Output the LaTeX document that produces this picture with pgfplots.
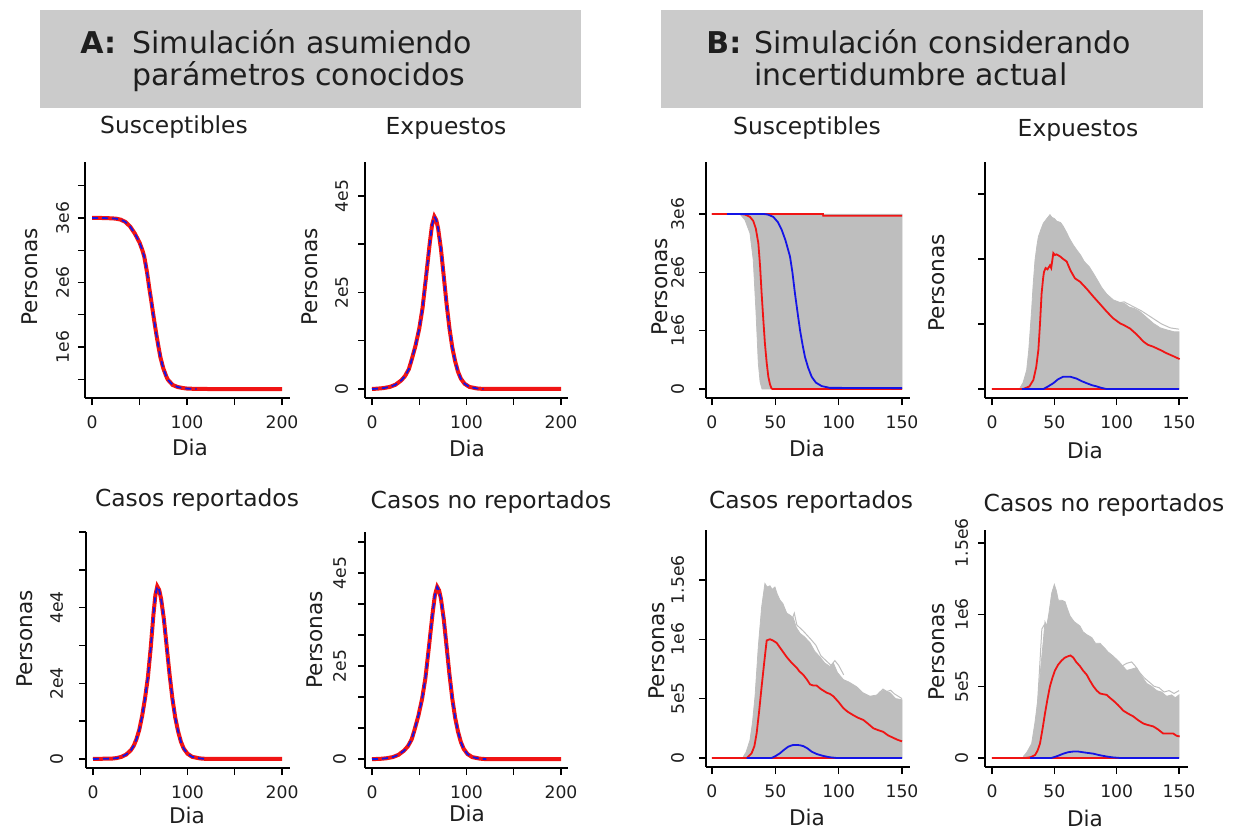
\documentclass[border=0pt]{standalone}
\usepackage{fontspec}
\setmainfont{DejaVu Sans}
\usepackage{pgfplots}
\pgfplotsset{compat=1.18}
\definecolor{rgray}{HTML}{BEBEBE}
\definecolor{hdr}{HTML}{CBCBCB}
\definecolor{rred}{HTML}{F01414}
\definecolor{rblue}{HTML}{1414E6}
\definecolor{txt}{HTML}{1E1E1E}
\pgfplotsset{
 rbase/.style={
  scale only axis, anchor=north west,
  axis x line*=bottom, axis y line*=left,
  axis line style={line width=0.7pt, black},
  tick align=outside, major tick length=3.5pt,
  every tick/.style={black, line width=0.7pt},
  tick label style={font=\fontsize{8.6}{10}\selectfont, text=txt},
  yticklabel style={rotate=90, anchor=south, inner sep=0pt},
  xticklabel style={anchor=north, inner sep=0pt},
  xticklabel shift=5.2pt,
  scaled x ticks=false, scaled y ticks=false,
 },
 rA/.style={rbase, xmin=-7.4, xmax=208.4, xtick={0,50,100,150,200}, xticklabels={0,,100,,200}},
 rB/.style={rbase, xmin=-4.7, xmax=156.3, xtick={0,50,100,150}, xticklabels={0,50,100,150}},
 redA/.style={rred, line width=2pt},
 blueA/.style={rblue, line width=0.9pt, dash pattern=on 3pt off 2pt},
 redB/.style={rred, line width=0.9pt},
 blueB/.style={rblue, line width=0.9pt},
 grayB/.style={draw=rgray, fill=rgray, line width=0.4pt},
 grayL/.style={rgray, line width=0.5pt},
}
\begin{document}
\begin{tikzpicture}
\begin{scope}[x=0.5pt,y=-0.5pt]
\useasboundingbox (0,0) rectangle (1238,829);
\fill[hdr] (40,10) rectangle (581,108);
\fill[hdr] (661,10) rectangle (1203,108);
\begin{scope}[every node/.style={inner sep=0pt, text=txt, font=\fontsize{15}{18}\selectfont}]
\node[anchor=base west] at (80,54) {\textbf{A:}};
\node[anchor=base west] at (132,54) {Simulación asumiendo};
\node[anchor=base west] at (132,86) {parámetros conocidos};
\node[anchor=base west] at (706,54) {\textbf{B:}};
\node[anchor=base west] at (754,54) {Simulación considerando};
\node[anchor=base west] at (754,86) {incertidumbre actual};
\end{scope}
\begin{scope}[every node/.style={inner sep=0pt, text=txt, font=\fontsize{11.7}{14}\selectfont}]
\node at (174,127) {Susceptibles};
\node at (446,128) {Expuestos};
\node at (197,500) {Casos reportados};
\node at (491,502) {Casos no reportados};
\node at (807,128) {Susceptibles};
\node at (1078,130) {Expuestos};
\node at (811,502) {Casos reportados};
\node at (1104,505) {Casos no reportados};
\end{scope}
\begin{scope}[every node/.style={inner sep=0pt, text=txt, font=\fontsize{10.8}{13}\selectfont}]
\node at (190,447) {Dia};
\node at (467,448) {Dia};
\node at (187,815) {Dia};
\node at (467,813) {Dia};
\node at (807,448) {Dia};
\node at (1085,450) {Dia};
\node at (807,817) {Dia};
\node at (1085,818) {Dia};
\node[rotate=90] at (30,277) {Personas};
\node[rotate=90] at (310,277) {Personas};
\node[rotate=90] at (25,639) {Personas};
\node[rotate=90] at (315,640) {Personas};
\node[rotate=90] at (660,287) {Personas};
\node[rotate=90] at (937,283) {Personas};
\node[rotate=90] at (657,651) {Personas};
\node[rotate=90] at (937,652) {Personas};
\end{scope}
\end{scope}

% ---------------- A1 Susceptibles
\begin{axis}[rA, at={(42.5pt,-81pt)}, width=102.5pt, height=118pt,
  ymin=0.209e6, ymax=3.868e6,
  ytick={0.5e6,1e6,1.5e6,2e6,2.5e6,3e6,3.5e6}, yticklabels={,1e6,,2e6,,3e6,},
  yticklabel shift=4.3pt]
\addplot[redA] coordinates {(0,3.0e6)(10,3.0e6)(20,2.995e6)(25,2.99e6)(30,2.975e6)(35,2.94e6)(40,2.87e6)(45,2.76e6)(50,2.62e6)(53,2.5e6)(55,2.40e6)(58,2.15e6)(60,1.94e6)(62,1.75e6)(65,1.45e6)(68,1.17e6)(70,1.0e6)(72,0.84e6)(75,0.67e6)(78,0.55e6)(80,0.49e6)(85,0.41e6)(90,0.38e6)(95,0.365e6)(100,0.355e6)(110,0.35e6)(150,0.345e6)(200,0.345e6)};
\addplot[blueA] coordinates {(0,3.0e6)(10,3.0e6)(20,2.995e6)(25,2.99e6)(30,2.975e6)(35,2.94e6)(40,2.87e6)(45,2.76e6)(50,2.62e6)(53,2.5e6)(55,2.40e6)(58,2.15e6)(60,1.94e6)(62,1.75e6)(65,1.45e6)(68,1.17e6)(70,1.0e6)(72,0.84e6)(75,0.67e6)(78,0.55e6)(80,0.49e6)(85,0.41e6)(90,0.38e6)(95,0.365e6)(100,0.355e6)(110,0.35e6)};
\end{axis}

% ---------------- A2 Expuestos
\begin{axis}[rA, at={(182.5pt,-81pt)}, width=101.5pt, height=118pt,
  xmin=-7.4, xmax=207.4,
  ymin=-0.187e5, ymax=4.70e5,
  ytick={0,1e5,2e5,3e5,4e5}, yticklabels={0,,2e5,,4e5},
  yticklabel shift=4.8pt]
\addplot[redA] coordinates {(0,0)(6,714)(12,1785)(19,4284)(25,8925)(31,17850)(35,26775)(39,41055)(42,60690)(46,89250)(50,124950)(53.5,167790)(57,228480)(61,299880)(63.5,339150)(66,357000)(68,349860)(70,332010)(73,289170)(76,232050)(79,174930)(82,124950)(85,85680)(88,57120)(91,35700)(94,21420)(98,10710)(103,4284)(111,1071)(118,0)(200,0)};
\addplot[blueA] coordinates {(0,0)(6,714)(12,1785)(19,4284)(25,8925)(31,17850)(35,26775)(39,41055)(42,60690)(46,89250)(50,124950)(53.5,167790)(57,228480)(61,299880)(63.5,339150)(66,357000)(68,349860)(70,332010)(73,289170)(76,232050)(79,174930)(82,124950)(85,85680)(88,57120)(91,35700)(94,21420)(98,10710)(103,4284)(111,1071)(118,0)};
\end{axis}

% ---------------- A3 Casos reportados
\begin{axis}[rA, at={(43pt,-266pt)}, width=102pt, height=118pt,
  ymin=-0.24e4, ymax=6e4,
  ytick={0,1e4,2e4,3e4,4e4,5e4,6e4}, yticklabels={0,,2e4,,4e4,,},
  yticklabel shift=7.8pt]
\addplot[redA] coordinates {(0,0)(20,91)(25,228)(30,547)(35,1140)(40,2280)(43,3420)(46,5244)(49,7752)(52,11400)(55,15960)(58,21432)(61,29184)(64,38304)(66,43320)(68,45600)(70,44688)(72,42408)(75,36936)(78,29640)(81,22344)(84,15960)(87,10944)(90,7296)(93,4560)(96,2736)(100,1368)(105,547)(113,137)(120,0)(200,0)};
\addplot[blueA] coordinates {(0,0)(20,91)(25,228)(30,547)(35,1140)(40,2280)(43,3420)(46,5244)(49,7752)(52,11400)(55,15960)(58,21432)(61,29184)(64,38304)(66,43320)(68,45600)(70,44688)(72,42408)(75,36936)(78,29640)(81,22344)(84,15960)(87,10944)(90,7296)(93,4560)(96,2736)(100,1368)(105,547)(113,137)(120,0)};
\end{axis}

% ---------------- A4 Casos no reportados
\begin{axis}[rA, at={(182.5pt,-266pt)}, width=101.5pt, height=118pt,
  xmin=-7.4, xmax=207.4,
  ymin=-0.19e5, ymax=4.88e5,
  ytick={0,66667,133333,200000,266667,333333,400000,466667}, yticklabels={0,,,2e5,,,4e5,},
  yticklabel shift=5.8pt]
\addplot[redA] coordinates {(0,0)(9,740)(15,1850)(22,4440)(28,9250)(34,18500)(38,27750)(42,42550)(45,62900)(49,92500)(53,129500)(56.5,173900)(60,236800)(64,310800)(66.5,351500)(69,370000)(71,362600)(73,344100)(76,299700)(79,240500)(82,181300)(85,129500)(88,88800)(91,59200)(94,37000)(97,22200)(101,11100)(106,4440)(114,1110)(121,0)(200,0)};
\addplot[blueA] coordinates {(0,0)(9,740)(15,1850)(22,4440)(28,9250)(34,18500)(38,27750)(42,42550)(45,62900)(49,92500)(53,129500)(56.5,173900)(60,236800)(64,310800)(66.5,351500)(69,370000)(71,362600)(73,344100)(76,299700)(79,240500)(82,181300)(85,129500)(88,88800)(91,59200)(94,37000)(97,22200)(101,11100)(106,4440)(114,1110)(121,0)};
\end{axis}

% ---------------- B1 Susceptibles
\begin{axis}[rB, at={(353pt,-81pt)}, width=102pt, height=118pt,
  ymin=-0.154e6, ymax=3.89e6,
  ytick={0,1e6,2e6,3e6}, yticklabels={0,1e6,2e6,3e6},
  yticklabel shift=7.3pt]
\addplot[grayB] coordinates {(22,3e6)(26,2.9e6)(30,2.67e6)(32.6,2.21e6)(34.7,1.35e6)(36.6,0.44e6)(38,0.12e6)(39.5,0)(150,0)(150,3e6)};
\addplot[redB] coordinates {(0,3e6)(87.6,3e6)(87.8,2.97e6)(150,2.97e6)};
\addplot[redB] coordinates {(0,3e6)(22,3e6)(26,2.99e6)(30,2.95e6)(32.6,2.88e6)(34.6,2.75e6)(36.6,2.5e6)(38,2.1e6)(39.2,1.64e6)(40.5,1.2e6)(41.8,0.78e6)(43.2,0.45e6)(44.5,0.21e6)(45.8,0.08e6)(47,0.01e6)(48,0)(150,0)};
\addplot[blueB] coordinates {(12,3e6)(40.5,3e6)(44,2.99e6)(48.4,2.95e6)(52,2.86e6)(55,2.73e6)(58,2.55e6)(61.6,2.27e6)(63.5,2.0e6)(65.5,1.64e6)(67.5,1.32e6)(69.5,1.01e6)(71.5,0.76e6)(73.4,0.55e6)(76,0.36e6)(78.7,0.21e6)(82,0.11e6)(86.6,0.05e6)(93,0.02e6)(150,0.015e6)};
\end{axis}

% ---------------- B2 Expuestos
\begin{axis}[rB, at={(492.5pt,-81pt)}, width=101.5pt, height=118pt,
  xmin=-5.6, xmax=157.2,
  ymin=-0.069e6, ymax=1.745e6,
  ytick={0,0.5e6,1e6,1.5e6}, yticklabels={,,,},
  yticklabel shift=4.8pt]
\addplot[grayB] coordinates {(22.5,0.01e6)(25,0.05e6)(27.8,0.145e6)(29.5,0.3e6)(31.8,0.61e6)(33,0.8e6)(34.5,0.99e6)(36,1.1e6)(37.2,1.17e6)(39,1.22e6)(41.2,1.275e6)(44,1.31e6)(46.5,1.34e6)(48,1.32e6)(50,1.31e6)(52,1.29e6)(55,1.28e6)(57.2,1.25e6)(60,1.2e6)(62,1.16e6)(65,1.11e6)(67.9,1.07e6)(71,1.03e6)(74,0.98e6)(78,0.94e6)(81.3,0.89e6)(85,0.83e6)(88,0.78e6)(92,0.73e6)(97.3,0.685e6)(102.7,0.665e6)(106,0.66e6)(110,0.63e6)(114,0.62e6)(118.7,0.595e6)(124,0.55e6)(129.4,0.505e6)(135,0.47e6)(140.1,0.455e6)(146,0.44e6)(150,0.44e6)(150,0)(22,0)};
\addplot[grayL] coordinates {(100,0.66e6)(106,0.67e6)(112,0.64e6)(120,0.6e6)(128,0.55e6)(136,0.5e6)(143,0.47e6)(150,0.46e6)};
\addplot[redB] coordinates {(0,0)(150,0)};
\addplot[redB] coordinates {(0,0)(25,0)(30,0.02e6)(33.2,0.07e6)(35.5,0.17e6)(37.2,0.3e6)(38.5,0.5e6)(39.8,0.735e6)(41,0.85e6)(41.7,0.9e6)(43,0.93e6)(44.5,0.92e6)(46.5,0.95e6)(47.5,0.93e6)(49.2,1.045e6)(50.5,1.03e6)(51.8,1.035e6)(54.5,1.02e6)(57,1.0e6)(59.9,0.98e6)(63,0.91e6)(66.6,0.85e6)(70.6,0.825e6)(76,0.77e6)(81.3,0.71e6)(86,0.66e6)(92,0.595e6)(97,0.545e6)(102.7,0.505e6)(106,0.49e6)(110.7,0.465e6)(116,0.42e6)(121.4,0.365e6)(125,0.34e6)(129.4,0.325e6)(135,0.3e6)(140.1,0.275e6)(146,0.25e6)(150.5,0.23e6)};
\addplot[blueB] coordinates {(24,0)(41.2,0)(45,0.02e6)(49.2,0.045e6)(53,0.075e6)(57.2,0.095e6)(62.6,0.095e6)(67.9,0.08e6)(72,0.06e6)(75.9,0.045e6)(80,0.03e6)(84,0.02e6)(88,0.008e6)(92,0)(150,0)};
\end{axis}

% ---------------- B3 Casos reportados
\begin{axis}[rB, at={(353pt,-265pt)}, width=102pt, height=118.5pt,
  ymin=-0.076e6, ymax=1.92e6,
  ytick={0,0.5e6,1e6,1.5e6}, yticklabels={0,5e5,1e6,1.5e6},
  yticklabel shift=7.3pt]
\addplot[grayB] coordinates {(24.7,0.01e6)(27,0.05e6)(30,0.15e6)(32,0.3e6)(34,0.52e6)(36.6,0.94e6)(39.2,1.27e6)(41.8,1.47e6)(43.5,1.44e6)(45.8,1.45e6)(47.5,1.42e6)(49.7,1.44e6)(51.5,1.38e6)(53.7,1.33e6)(56,1.3e6)(59,1.22e6)(62,1.2e6)(64.2,1.18e6)(66.5,1.1e6)(69.5,1.05e6)(73,1.02e6)(77.4,0.97e6)(81,0.9e6)(85.3,0.85e6)(89,0.8e6)(93.2,0.77e6)(95.8,0.8e6)(99,0.72e6)(103.7,0.66e6)(108,0.64e6)(114.2,0.6e6)(119,0.55e6)(124.7,0.52e6)(130,0.53e6)(135.2,0.57e6)(140.5,0.55e6)(145,0.5e6)(150,0.49e6)(150,0)(24,0)};
\addplot[grayL] coordinates {(60,1.2e6)(63,1.16e6)(65,1.22e6)(67,1.12e6)(72,1.07e6)(78,1.0e6)(82,0.95e6)(86,0.86e6)(90,0.82e6)(94,0.78e6)(97,0.82e6)(100,0.78e6)(104,0.7e6)};
\addplot[grayL] coordinates {(128,0.5e6)(132,0.55e6)(135,0.58e6)(138,0.56e6)(141,0.57e6)(144,0.54e6)(147,0.52e6)(150,0.5e6)};
\addplot[redB] coordinates {(0,0)(150,0)};
\addplot[redB] coordinates {(0,0)(27.6,0)(31.3,0.04e6)(33.5,0.1e6)(35.3,0.21e6)(37.3,0.4e6)(39.2,0.6e6)(41.2,0.8e6)(43.2,0.99e6)(45.8,1.0e6)(48,0.99e6)(51,0.97e6)(55,0.91e6)(59,0.85e6)(63,0.8e6)(66.9,0.76e6)(69,0.73e6)(72.1,0.7e6)(75,0.66e6)(77.4,0.62e6)(80,0.61e6)(82.6,0.61e6)(86,0.58e6)(90.5,0.55e6)(93,0.54e6)(95.8,0.52e6)(100,0.47e6)(103.7,0.42e6)(107,0.39e6)(111.6,0.36e6)(115,0.34e6)(119.5,0.32e6)(123,0.29e6)(127.4,0.25e6)(131,0.235e6)(135.2,0.22e6)(139,0.19e6)(143.1,0.17e6)(146,0.155e6)(150,0.14e6)};
\addplot[blueB] coordinates {(27.4,0)(47,0)(50,0.015e6)(53.7,0.04e6)(57,0.07e6)(60.2,0.095e6)(63.5,0.108e6)(66.9,0.11e6)(69.5,0.107e6)(72.1,0.1e6)(75.5,0.08e6)(78.7,0.053e6)(83,0.032e6)(87.9,0.017e6)(93,0.006e6)(98.4,0)(150,0)};
\end{axis}

% ---------------- B4 Casos no reportados
\begin{axis}[rB, at={(492.5pt,-265pt)}, width=101.5pt, height=118.5pt,
  xmin=-5.6, xmax=157.2,
  ymin=-0.063e6, ymax=1.59e6,
  ytick={0,0.5e6,1e6,1.5e6}, yticklabels={0,5e5,1e6,1.5e6},
  yticklabel shift=4.8pt]
\addplot[grayB] coordinates {(25.1,0.01e6)(28,0.04e6)(31.8,0.1e6)(34.5,0.25e6)(37.1,0.43e6)(39,0.62e6)(41.2,0.82e6)(42.5,0.95e6)(43.9,0.92e6)(45.5,1.0e6)(47.9,1.15e6)(50,1.21e6)(51.5,1.17e6)(53.2,1.1e6)(56,1.1e6)(58.6,1.09e6)(60.5,1.04e6)(62.6,0.99e6)(66,0.95e6)(70.6,0.92e6)(73,0.88e6)(76,0.86e6)(80,0.84e6)(83,0.8e6)(86.6,0.8e6)(90,0.77e6)(93,0.74e6)(97.3,0.71e6)(102,0.67e6)(108,0.61e6)(112,0.62e6)(116,0.63e6)(120,0.57e6)(124.1,0.52e6)(128,0.5e6)(132.1,0.47e6)(136,0.46e6)(140.1,0.43e6)(144,0.44e6)(147,0.42e6)(150,0.44e6)(150,0)(25,0)};
\addplot[grayL] coordinates {(36,0.3e6)(38,0.6e6)(40,0.9e6)(42,0.93e6)(44,0.9e6)(47,0.8e6)};
\addplot[grayL] coordinates {(104,0.64e6)(108,0.66e6)(112,0.67e6)(115,0.64e6)(118,0.6e6)(122,0.56e6)(126,0.53e6)(130,0.5e6)(134,0.49e6)(138,0.46e6)(142,0.47e6)(146,0.45e6)(150,0.47e6)};
\addplot[redB] coordinates {(0,0)(150,0)};
\addplot[redB] coordinates {(0,0)(26.7,0)(31,0.005e6)(34.5,0.02e6)(36.5,0.05e6)(38.5,0.1e6)(40.5,0.2e6)(42.5,0.31e6)(44.5,0.41e6)(46.5,0.5e6)(48.5,0.56e6)(50.5,0.61e6)(53,0.65e6)(55.9,0.68e6)(58.5,0.7e6)(61.2,0.71e6)(63,0.715e6)(65.2,0.70e6)(67.5,0.67e6)(70.6,0.64e6)(73,0.61e6)(76,0.58e6)(78.5,0.54e6)(81.3,0.5e6)(84,0.47e6)(86.6,0.45e6)(89,0.445e6)(92,0.44e6)(94.5,0.42e6)(97.3,0.4e6)(101,0.37e6)(105.3,0.33e6)(109,0.31e6)(113.3,0.29e6)(117,0.265e6)(121.4,0.24e6)(125,0.23e6)(129.4,0.22e6)(133,0.2e6)(137.4,0.17e6)(141,0.17e6)(145.4,0.17e6)(148,0.155e6)(150.5,0.15e6)};
\addplot[blueB] coordinates {(30.5,0)(47.6,0)(52,0.012e6)(57.2,0.03e6)(61,0.04e6)(65.2,0.045e6)(69,0.045e6)(73,0.04e6)(77,0.035e6)(81.3,0.03e6)(86,0.02e6)(92,0.01e6)(97,0.004e6)(102.7,0)(150,0)};
\end{axis}
\end{tikzpicture}
\end{document}
